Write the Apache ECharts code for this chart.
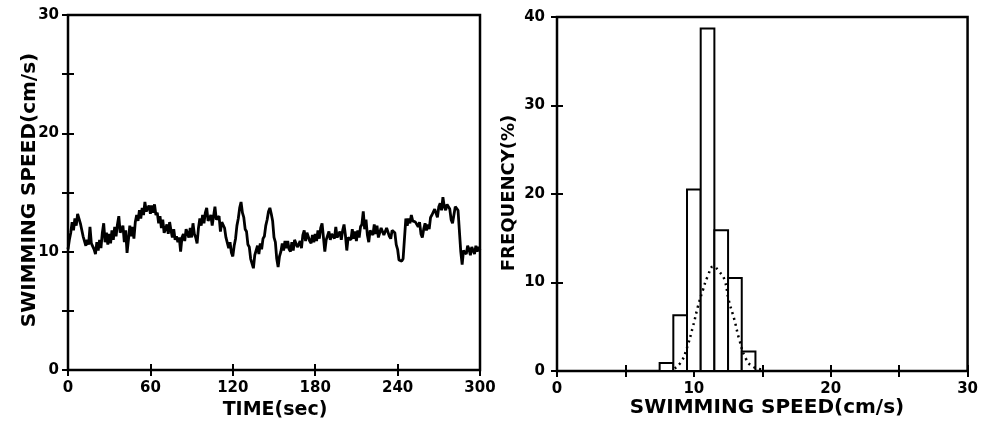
<!DOCTYPE html>
<html>
<head>
<meta charset="utf-8">
<script src="https://cdn.jsdelivr.net/npm/echarts@6/dist/echarts.min.js"></script>
<style>
  html, body { margin: 0; padding: 0; background: #fff; }
  #chart { width: 981px; height: 426px; }
</style>
</head>
<body>
<div id="chart"></div>
<script>
// Swimming speed sampled once per second, 0–300 s (cm/s)
const sampleStepSec = 1;
const speedTrace = [
  10.2, 11.0, 11.6, 12.5, 11.8, 12.8, 12.2, 13.2, 13.3, 12.4,
  12.3, 11.3, 11.4, 10.5, 11.0, 10.6, 12.1, 10.7, 10.6, 10.2,
  9.8, 10.8, 10.1, 11.0, 10.3, 11.6, 12.4, 10.8, 11.6, 10.6,
  11.5, 10.7, 11.8, 11.0, 12.1, 11.3, 12.3, 13.0, 11.6, 11.9,
  12.2, 10.8, 11.8, 9.9, 11.0, 12.2, 11.3, 12.1, 11.1, 12.5,
  13.1, 12.6, 13.5, 12.8, 13.7, 13.1, 14.2, 13.4, 13.3, 13.9,
  13.2, 13.9, 13.3, 14.0, 13.1, 13.3, 12.4, 13.0, 12.0, 12.7,
  11.6, 11.9, 12.3, 11.5, 12.5, 11.8, 11.2, 11.9, 11.0, 11.3,
  10.8, 11.2, 10.0, 11.2, 11.5, 10.9, 11.9, 12.0, 11.2, 12.0,
  11.2, 12.4, 11.5, 11.2, 10.7, 12.0, 12.8, 12.2, 13.1, 12.4,
  13.3, 13.7, 12.6, 12.8, 13.1, 12.2, 13.0, 13.8, 12.7, 12.6,
  13.0, 11.7, 12.5, 12.4, 12.0, 11.2, 11.2, 10.3, 10.8, 9.9,
  9.6, 10.5, 11.1, 12.2, 12.8, 13.7, 14.2, 13.3, 12.9, 11.9,
  11.7, 10.6, 10.4, 9.4, 9.5, 8.6, 9.7, 9.8, 10.5, 9.8,
  10.7, 10.2, 11.1, 11.3, 12.2, 12.7, 13.4, 13.7, 13.2, 12.6,
  11.2, 10.8, 9.4, 8.7, 9.6, 10.0, 10.7, 10.1, 10.9, 10.3,
  10.9, 10.2, 10.0, 10.8, 10.1, 11.0, 10.9, 10.4, 10.6, 10.9,
  10.3, 11.4, 11.8, 10.9, 11.6, 11.6, 10.9, 10.7, 11.4, 10.8,
  11.5, 10.9, 11.8, 11.1, 12.0, 12.4, 11.2, 10.0, 11.0, 10.9,
  11.7, 11.0, 11.5, 11.5, 11.1, 12.1, 11.2, 11.1, 11.7, 11.0,
  11.8, 12.3, 11.4, 10.1, 11.2, 11.3, 11.0, 11.9, 11.1, 11.7,
  10.9, 11.8, 11.2, 12.1, 12.3, 13.4, 11.9, 12.7, 11.4, 10.8,
  11.8, 11.9, 11.4, 12.3, 11.5, 12.2, 11.2, 11.1, 12.0, 11.9,
  11.4, 11.3, 12.0, 11.9, 11.3, 11.1, 11.8, 11.7, 11.6, 10.6,
  10.2, 9.3, 9.3, 9.2, 9.4, 11.1, 12.8, 12.2, 12.8, 12.4,
  13.1, 12.6, 12.6, 12.5, 12.5, 12.1, 12.5, 11.5, 11.2, 11.9,
  12.4, 11.8, 12.3, 11.9, 12.9, 13.1, 13.2, 13.6, 13.5, 12.9,
  13.8, 14.1, 13.5, 14.6, 13.8, 13.5, 14.0, 14.0, 13.6, 12.7,
  12.4, 13.1, 13.8, 13.7, 13.5, 13.6, 10.0, 8.9, 10.1, 10.2,
  9.8, 10.5, 10.2, 9.7, 10.4, 10.1, 9.8, 10.5, 10.0, 10.4,
  10.1
];

// Histogram of swimming speed: 1 cm/s bins
const binLow = [7.5, 8.5, 9.5, 10.5, 11.5, 12.5, 13.5];
const binHigh = [8.5, 9.5, 10.5, 11.5, 12.5, 13.5, 14.5];
const binFrequency = [0.9, 6.3, 20.5, 38.7, 15.9, 10.5, 2.2];

// Fitted distribution (dotted curve)
const fitSpeed = [8.6, 9.08, 9.45, 9.93, 10.3, 10.66, 11.0, 11.43, 11.87, 12.24, 12.55, 12.96, 13.33, 13.8, 14.3, 15.0];
const fitFrequency = [0.3, 1.05, 2.4, 5.0, 7.3, 9.15, 10.65, 11.8, 11.2, 10.3, 8.0, 5.8, 3.5, 1.4, 0.5, 0.2];

// Axis tick labels
const timeTicks = [0, 60, 120, 180, 240, 300];
const speedTicksLeft = [0, 10, 20, 30];
const freqTicks = [0, 10, 20, 30, 40];
const speedTicksBottom = [0, 10, 20, 30];

const tracePoints = speedTrace.map((v, i) => [i * sampleStepSec, v]);
const fitPoints = fitSpeed.map((s, i) => [s, fitFrequency[i]]);
const binData = binLow.map((lo, i) => [lo, binHigh[i], binFrequency[i]]);

const tickFont = { color: '#000', fontFamily: 'DejaVu Sans', fontWeight: 'bold', fontSize: 15 };
const labelOnly = list => v => (list.indexOf(v) >= 0 ? String(v) : '');
const tickStyle = { show: true, inside: true, length: 6, lineStyle: { color: '#000', width: 2 } };

function valueAxis(extra) {
  return Object.assign({
    type: 'value',
    axisLine: { show: false },
    splitLine: { show: false },
    axisTick: tickStyle
  }, extra);
}

const chart = echarts.init(document.getElementById('chart'), null, { renderer: 'canvas' });
chart.setOption({
  animation: false,
  backgroundColor: '#fff',
  grid: [
    { left: 68, right: 501, top: 15, bottom: 56, show: true, borderColor: '#000', borderWidth: 2.5, backgroundColor: 'transparent' },
    { left: 557, right: 12, top: 17, bottom: 55, show: true, borderColor: '#000', borderWidth: 2.5, backgroundColor: 'transparent' }
  ],
  xAxis: [
    valueAxis({ gridIndex: 0, position: 'bottom', min: 0, max: 300, interval: 60,
      axisLabel: Object.assign({ margin: 11, formatter: labelOnly(timeTicks) }, tickFont) }),
    valueAxis({ gridIndex: 0, position: 'top', min: 0, max: 300, interval: 60, axisLabel: { show: false } }),
    valueAxis({ gridIndex: 1, position: 'bottom', min: 0, max: 30, interval: 5,
      axisLabel: Object.assign({ margin: 11, formatter: labelOnly(speedTicksBottom) }, tickFont) }),
    valueAxis({ gridIndex: 1, position: 'top', min: 0, max: 30, interval: 5, axisLabel: { show: false } })
  ],
  yAxis: [
    valueAxis({ gridIndex: 0, position: 'left', min: 0, max: 30, interval: 5,
      axisLabel: Object.assign({ margin: 9, formatter: labelOnly(speedTicksLeft) }, tickFont) }),
    valueAxis({ gridIndex: 0, position: 'right', min: 0, max: 30, interval: 5, axisLabel: { show: false } }),
    valueAxis({ gridIndex: 1, position: 'left', min: 0, max: 40, interval: 10,
      axisLabel: Object.assign({ margin: 12, formatter: labelOnly(freqTicks) }, tickFont) }),
    valueAxis({ gridIndex: 1, position: 'right', min: 0, max: 40, interval: 10, axisLabel: { show: false } })
  ],
  series: [
    {
      type: 'line', xAxisIndex: 0, yAxisIndex: 0, data: tracePoints,
      showSymbol: false, lineStyle: { color: '#000', width: 2.8 }, z: 3
    },
    {
      type: 'custom', xAxisIndex: 2, yAxisIndex: 2, data: binData,
      encode: { x: [0, 1], y: 2 },
      renderItem: function (params, api) {
        const base = api.coord([api.value(0), 0]);
        const top = api.coord([api.value(1), api.value(2)]);
        return {
          type: 'rect',
          shape: { x: base[0], y: top[1], width: top[0] - base[0], height: base[1] - top[1] },
          style: { fill: '#fff', stroke: '#000', lineWidth: 2 }
        };
      },
      z: 2
    },
    {
      type: 'line', xAxisIndex: 2, yAxisIndex: 2, data: fitPoints, smooth: true,
      showSymbol: false, lineStyle: { color: '#000', width: 2.5, type: [2, 4] }, z: 4
    }
  ],
  graphic: [
    { type: 'text', x: 30, y: 190, rotation: Math.PI / 2,
      style: { text: 'SWIMMING SPEED(cm/s)', font: 'bold 20px "DejaVu Sans"', fill: '#000', align: 'center', verticalAlign: 'middle' } },
    { type: 'text', x: 275, y: 410,
      style: { text: 'TIME(sec)', font: 'bold 19px "DejaVu Sans"', fill: '#000', align: 'center', verticalAlign: 'middle' } },
    { type: 'text', x: 509, y: 193, rotation: Math.PI / 2,
      style: { text: 'FREQUENCY(%)', font: 'bold 18px "DejaVu Sans"', fill: '#000', align: 'center', verticalAlign: 'middle' } },
    { type: 'text', x: 767, y: 408,
      style: { text: 'SWIMMING SPEED(cm/s)', font: 'bold 20px "DejaVu Sans"', fill: '#000', align: 'center', verticalAlign: 'middle' } }
  ]
});
</script>
</body>
</html>
